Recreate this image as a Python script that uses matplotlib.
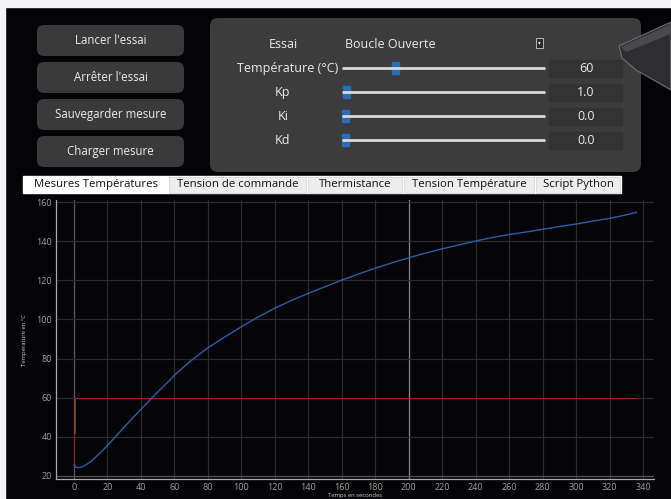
from matplotlib import pyplot as plt
from matplotlib.patches import FancyBboxPatch, Rectangle, Polygon
import numpy as np

plt.rcParams['font.family'] = ['Open Sans', 'DejaVu Sans']

t_mesure = [0, 1, 2.4, 5, 7.6, 10, 15.5, 20, 27.5, 35, 47.3, 57.3, 60, 70, 80, 90,
            100, 110, 120, 130, 140, 150, 160, 170, 180, 190, 200, 210, 220, 230,
            240, 250, 260, 270, 280, 290, 300, 310, 320, 330, 336]
temp_mesure = [25.5, 24.4, 24.1, 24.5, 25.8, 27.2, 31.5, 35.5, 42.5, 49.5, 60.5, 69.0,
               71.5, 79.0, 85.5, 91.0, 96.3, 101.3, 105.8, 109.8, 113.4, 116.8,
               120.2, 123.3, 126.3, 129.0, 131.6, 134.0, 136.2, 138.2, 140.2, 142.0,
               143.5, 144.8, 146.2, 147.6, 148.9, 150.4, 151.8, 153.6, 154.9]
t_consigne = [0, 0, 0.8, 0.8, 335.7]
temp_consigne = [26, 42, 42, 60, 60]

boutons = ["Lancer l'essai", "Arrêter l'essai", "Sauvegarder mesure", "Charger mesure"]
params = ["Température (°C)", "Kp", "Ki", "Kd"]
param_vals = ["60", "1.0", "0.0", "0.0"]
slider_pos = [395, 346, 345, 345]
onglets = ["Mesures Températures", "Tension de commande", "Thermistance",
           "Tension Température", "Script Python"]
onglet_bords = [23, 168, 307, 403, 535, 621]
xticks = list(range(0, 341, 20))
yticks = list(range(20, 161, 20))

W, H = 671, 499
fig = plt.figure(figsize=(W / 100, H / 100), dpi=100, facecolor='#040406')

# fond / interface
bg = fig.add_axes([0, 0, 1, 1])
bg.set_xlim(0, W)
bg.set_ylim(H, 0)
bg.axis('off')
bg.set_facecolor('#040406')
bg.add_patch(Rectangle((0, 0), W, 7, color='#f4f4f4'))
bg.add_patch(Rectangle((0, 0), 5, H, color='#f4f4f4'))

for i, txt in enumerate(boutons):
    y0 = 25 + i * 37
    bg.add_patch(FancyBboxPatch((37, y0), 147, 31, boxstyle='round,pad=0,rounding_size=7',
                                fc='#3a3a3a', ec='none'))
    bg.text(110.5, y0 + 15.5, txt, color='#ececec', fontsize=8.3, ha='center', va='center')

bg.add_patch(FancyBboxPatch((210, 18), 431, 154, boxstyle='round,pad=0,rounding_size=8',
                            fc='#3c3c3c', ec='none'))
bg.text(283, 44, "Essai", color='#ececec', fontsize=9, ha='center', va='center')
bg.text(345, 44, "Boucle Ouverte", color='#ececec', fontsize=9, ha='left', va='center')
bg.add_patch(Rectangle((536, 38), 7, 10, fc='#2a2a2a', ec='#cccccc', lw=0.6))
bg.text(539.5, 43, "▾", color='#dddddd', fontsize=4, ha='center', va='center')

for i, (p, v) in enumerate(zip(params, param_vals)):
    yc = 68 + i * 24
    if i == 0:
        bg.text(338, yc, p, color='#ececec', fontsize=9, ha='right', va='center')
    else:
        bg.text(283, yc, p, color='#ececec', fontsize=9, ha='center', va='center')
    bg.plot([342, 545], [yc, yc], color='#d8d8d8', lw=2, solid_capstyle='butt')
    bg.add_patch(Rectangle((slider_pos[i] - 3, yc - 6), 7, 12, color='#2b6cb8'))
    bg.add_patch(Rectangle((549, yc - 8.5), 73, 17, color='#333333'))
    bg.text(586, yc, v, color='#ececec', fontsize=9, ha='center', va='center')

# objet en haut a droite (telephone)
bg.add_patch(Polygon([(619, 46), (671, 22), (671, 90), (636, 70), (622, 58)],
                     closed=True, fc='#2e2e30', ec='#6e6e6e', lw=0.8))
bg.add_patch(Polygon([(621, 47), (671, 24), (671, 34), (626, 52)],
                     closed=True, fc='#4a4a4c', ec='none'))

# onglets
bg.add_patch(Rectangle((23, 176), 598, 17, color='#ffffff'))
for i, txt in enumerate(onglets):
    x0, x1 = onglet_bords[i], onglet_bords[i + 1]
    if i > 0:
        bg.add_patch(Rectangle((x0 + 1, 177), x1 - x0 - 2, 16, fc='#ededed', ec='#d0d0d0', lw=0.5))
    bg.text((x0 + x1) / 2, 184.5, txt, color='#111111', fontsize=8.2, ha='center', va='center')

# petit carre + legende
bg.add_patch(Rectangle((74, 218), 95, 43, fc='#4a4a4a', ec='#a8a8a8', lw=0.8, alpha=0.9, zorder=5))
bg.add_patch(Rectangle((74, 218), 14, 14, fc='#666666', ec='#999999', lw=0.5, zorder=6))
bg.plot([82, 90], [236, 228], color='#b02020', lw=0.8, zorder=6)
bg.plot([82, 90], [251, 243], color='#2f5ca8', lw=0.8, zorder=6)
bg.text(88, 231, "Consigne de Température", color='#cfcfcf', fontsize=4.2, va='center', zorder=7)
bg.text(93, 247, "Température mesurée", color='#cfcfcf', fontsize=4.2, va='center', zorder=7)

# graphique
ax = fig.add_axes([56 / W, (H - 479) / H, 598 / W, 279 / H])
ax.set_facecolor('#050508')
ax.set_xlim(-10.75, 346.5)
ax.set_ylim(18.3, 161.2)
for x in xticks:
    c = '#888888' if x == 200 else ('#5a5a5a' if x == 0 else '#2c2c2c')
    ax.axvline(x, color=c, lw=0.9, zorder=1)
for y in yticks:
    c = '#555555' if y == 20 else '#2c2c2c'
    ax.axhline(y, color=c, lw=0.9, zorder=1)
ax.plot(t_consigne, temp_consigne, color='#9a2222', lw=0.75, zorder=3)
ax.plot(t_mesure, temp_mesure, color='#2f5ca8', lw=1.0, zorder=4)
ax.set_xticks(xticks)
ax.set_yticks(yticks)
ax.tick_params(colors='#a0a0a0', labelsize=6.5, length=0, pad=3)
for s in ['top', 'right']:
    ax.spines[s].set_visible(False)
for s in ['left', 'bottom']:
    ax.spines[s].set_color('#aaaaaa')
    ax.spines[s].set_linewidth(0.9)
ax.set_ylabel("Température en °C", color='#cfcfcf', fontsize=4.2)
ax.yaxis.set_label_coords(-0.048, 0.5)
ax.set_xlabel("Temps en secondes", color='#cfcfcf', fontsize=4.2)
ax.xaxis.set_label_coords(0.5, -0.05)

fig.savefig('out.png', dpi=100, facecolor=fig.get_facecolor())
